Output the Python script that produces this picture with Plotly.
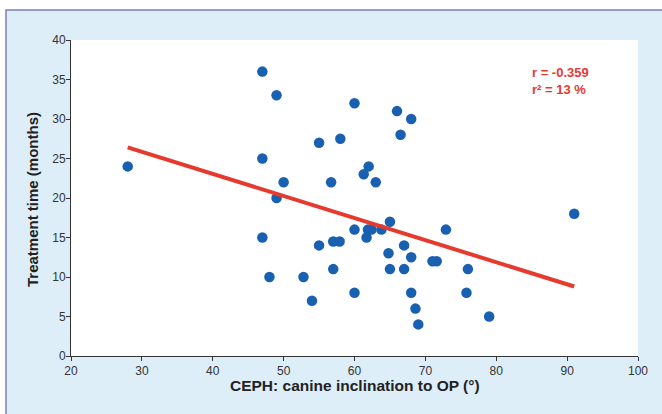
import plotly.graph_objects as go

# Data
canine_inclination = [28, 47, 49, 47, 50, 49, 47, 48, 55, 58, 60, 56.7, 61.3, 62, 63,
                      55, 57, 57.9, 57, 52.8, 54, 60, 60, 61.7, 61.9, 62.4, 63.8, 65,
                      64.8, 65, 66, 66.5, 68, 67, 67, 68, 68, 68.6, 69, 71, 71.6, 72.9,
                      76, 75.8, 79, 91]
treatment_months = [24, 36, 33, 25, 22, 20, 15, 10, 27, 27.5, 32, 22, 23, 24, 22,
                    14, 14.5, 14.5, 11, 10, 7, 16, 8, 15, 16, 16, 16, 17,
                    13, 11, 31, 28, 30, 14, 11, 12.5, 8, 6, 4, 12, 12, 16,
                    11, 8, 5, 18]
fit_x = [28, 91]
fit_y = [26.4, 8.8]
stats_text = ["r = -0.359", "r\u00b2 = 13 %"]
x_title = "CEPH: canine inclination to OP (°)"
y_title = "Treatment time (months)"
x_ticks = [20, 30, 40, 50, 60, 70, 80, 90, 100]
y_ticks = [0, 5, 10, 15, 20, 25, 30, 35, 40]

W, H = 662, 414
L, R, T, B = 71, 24, 40, 58
pw, ph = W - L - R, H - T - B

def px_x(p):
    return (p - L) / pw

def px_y(p):
    return (H - B - p) / ph

BLUE = "#1961b0"
RED = "#e63a2e"
FONT = "Liberation Sans, Arial, sans-serif"

fig = go.Figure()
fig.add_trace(go.Scatter(
    x=canine_inclination, y=treatment_months, mode="markers",
    marker=dict(size=10.5, color=BLUE, line=dict(width=0)),
    showlegend=False, hoverinfo="x+y"))
fig.add_trace(go.Scatter(
    x=fit_x, y=fit_y, mode="lines",
    line=dict(color=RED, width=4), showlegend=False, hoverinfo="skip"))

shapes = [
    dict(type="rect", xref="paper", yref="paper", layer="below",
         x0=px_x(6), x1=px_x(675), y0=px_y(425), y1=px_y(10),
         fillcolor="#ddeef9", line=dict(color="#7a7fc0", width=1.5)),
    dict(type="rect", xref="paper", yref="paper", layer="below",
         x0=0, x1=1, y0=0, y1=1, fillcolor="white", line=dict(width=0)),
]

annotations = [
    dict(text="<b>%s</b>" % stats_text[0], xref="paper", yref="paper",
         x=px_x(530), y=px_y(72), xanchor="left", yanchor="middle",
         showarrow=False, font=dict(family=FONT, size=13, color=RED)),
    dict(text="<b>%s</b>" % stats_text[1], xref="paper", yref="paper",
         x=px_x(530), y=px_y(90), xanchor="left", yanchor="middle",
         showarrow=False, font=dict(family=FONT, size=13, color=RED)),
    dict(text="<b>%s</b>" % x_title, xref="paper", yref="paper",
         x=px_x(355), y=px_y(385), xanchor="center", yanchor="middle",
         showarrow=False, font=dict(family=FONT, size=15.5, color="#222222")),
    dict(text="<b>%s</b>" % y_title, xref="paper", yref="paper",
         x=px_x(32), y=px_y(200), xanchor="center", yanchor="middle",
         textangle=-90, showarrow=False,
         font=dict(family=FONT, size=15, color="#222222")),
]

axis_common = dict(showline=True, linecolor="#333333", linewidth=1,
                   ticks="outside", ticklen=4, tickcolor="#333333", tickwidth=1,
                   showgrid=False, zeroline=False,
                   tickfont=dict(family=FONT, size=12, color="#333333"))

fig.update_layout(
    width=W, height=H,
    margin=dict(l=L, r=R, t=T, b=B, pad=0),
    paper_bgcolor="white", plot_bgcolor="white",
    shapes=shapes, annotations=annotations,
    font=dict(family=FONT),
    xaxis=dict(range=[20, 100], tickvals=x_ticks, **axis_common),
    yaxis=dict(range=[0, 40], tickvals=y_ticks, ticklabelstandoff=-2, **axis_common),
)

fig.write_html("out.html",
               config={"displayModeBar": False},
               post_script="document.body.style.margin='0';document.body.style.overflow='hidden';")
